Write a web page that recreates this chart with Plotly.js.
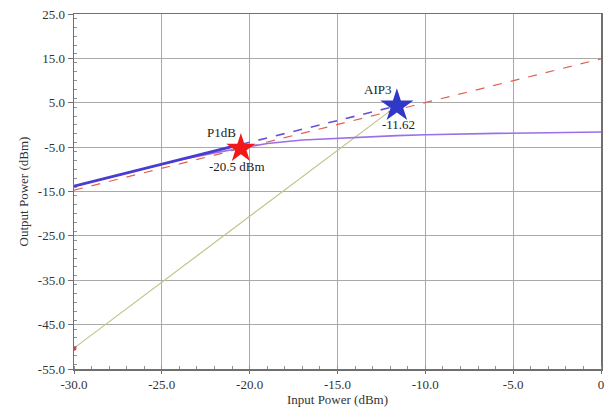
<!DOCTYPE html>
<html><head><meta charset="utf-8">
<script src="https://cdn.plot.ly/plotly-3.0.1.min.js"></script>
<style>html,body{margin:0;padding:0;background:#fff;}#chart{width:606px;height:410px;}</style>
</head><body><div id="chart"></div>
<script>
// Fundamental output (compressing)
const poutX = [-30, -28, -26, -24, -22, -20.5, -19, -17, -15, -13, -11.62, -10, -8, -6, -4, -2, 0];
const poutY = [-13.8, -11.8, -9.8, -7.9, -6.3, -5.2, -4.2, -3.4, -3.0, -2.6, -2.4, -2.2, -2.0, -1.9, -1.8, -1.7, -1.6];
// Linear extrapolation (blue)
const linSolidX = [-30, -20.5];
const linSolidY = [-13.8, -4.4];
const linDashX = [-20.5, -11.62];
const linDashY = [-4.4, 4.3];
// Reference slope-1 line (red dashed)
const refX = [-30, 0];
const refY = [-14.7, 14.9];
// IM3 extrapolation (olive)
const im3X = [-30, -11.62];
const im3Y = [-50.3, 4.3];
// Markers
const p1dbX = [-20.5], p1dbY = [-5.3];
const aip3X = [-11.62], aip3Y = [4.3];
const xTicks = [-30, -25, -20, -15, -10, -5, 0];
const xTickText = ["-30.0", "-25.0", "-20.0", "-15.0", "-10.0", "-5.0", "0"];
const yTicks = [25, 15, 5, -5, -15, -25, -35, -45, -55];
const yTickText = ["25.0", "15.0", "5.0", "-5.0", "-15.0", "-25.0", "-35.0", "-45.0", "-55.0"];

const traces = [
  {x: im3X, y: im3Y, mode: 'lines', line: {color: '#c2c28c', width: 1.2}},
  {x: [im3X[0]], y: [im3Y[0]], mode: 'markers', marker: {color: '#e04040', size: 5}},
  {x: refX, y: refY, mode: 'lines', line: {color: '#e06050', width: 1.2, dash: 'dash'}},
  {x: poutX, y: poutY, mode: 'lines', line: {color: '#9a70e8', width: 1.6}},
  {x: linDashX, y: linDashY, mode: 'lines', line: {color: '#6652d6', width: 1.6, dash: 'dash'}},
  {x: linSolidX, y: linSolidY, mode: 'lines', line: {color: '#4a3ccf', width: 2.8}},
  {x: p1dbX, y: p1dbY, mode: 'markers', marker: {symbol: 'star', color: '#f01818', size: 22, line: {width: 0}}},
  {x: aip3X, y: aip3Y, mode: 'markers', marker: {symbol: 'star', color: '#3038c8', size: 25, line: {width: 0}}}
];

const serif = '"Liberation Serif", "Times New Roman", serif';
const layout = {
  width: 606, height: 410,
  margin: {l: 74, r: 5, t: 14, b: 41},
  showlegend: false,
  paper_bgcolor: '#fff', plot_bgcolor: '#fff',
  font: {family: serif, size: 13, color: '#333'},
  xaxis: {
    range: [-30, 0], tickvals: xTicks, ticktext: xTickText,
    showgrid: true, gridcolor: '#aaaaaa', gridwidth: 1,
    zeroline: false, showline: true, linecolor: '#707070', linewidth: 1.5, mirror: true,
    ticks: 'outside', ticklen: 3, tickcolor: '#707070',
    minor: {dtick: 1, ticks: 'inside', ticklen: 3, tickcolor: '#909090', showgrid: false},
    tickfont: {family: serif, size: 13, color: '#333'},
    title: {text: 'Input Power (dBm)', font: {family: serif, size: 13, color: '#333'}, standoff: 1}
  },
  yaxis: {
    range: [-55, 25], tickvals: yTicks, ticktext: yTickText,
    showgrid: true, gridcolor: '#aaaaaa', gridwidth: 1,
    zeroline: false, showline: true, linecolor: '#707070', linewidth: 1.5, mirror: true,
    ticks: 'outside', ticklen: 5, tickcolor: '#707070',
    minor: {dtick: 2, ticks: 'inside', ticklen: 3, tickcolor: '#909090', showgrid: false},
    tickfont: {family: serif, size: 13, color: '#333'},
    title: {text: 'Output Power (dBm)', font: {family: serif, size: 13, color: '#333'}, standoff: 6}
  },
  annotations: [
    {x: p1dbX[0], y: p1dbY[0], text: 'P1dB', showarrow: false, xanchor: 'right', yanchor: 'bottom', xshift: -3, yshift: 6, font: {family: serif, size: 13, color: '#222'}},
    {x: p1dbX[0], y: p1dbY[0], text: '-20.5 dBm', showarrow: false, xanchor: 'center', yanchor: 'top', xshift: -4, yshift: -9, font: {family: serif, size: 13, color: '#222'}},
    {x: aip3X[0], y: aip3Y[0], text: 'AIP3', showarrow: false, xanchor: 'right', yanchor: 'bottom', xshift: -4, yshift: 7, font: {family: serif, size: 13, color: '#222'}},
    {x: aip3X[0], y: aip3Y[0], text: '-11.62', showarrow: false, xanchor: 'center', yanchor: 'top', xshift: 2, yshift: -9, font: {family: serif, size: 13, color: '#222'}}
  ]
};
Plotly.newPlot('chart', traces, layout, {displayModeBar: false, staticPlot: true});
</script></body></html>
